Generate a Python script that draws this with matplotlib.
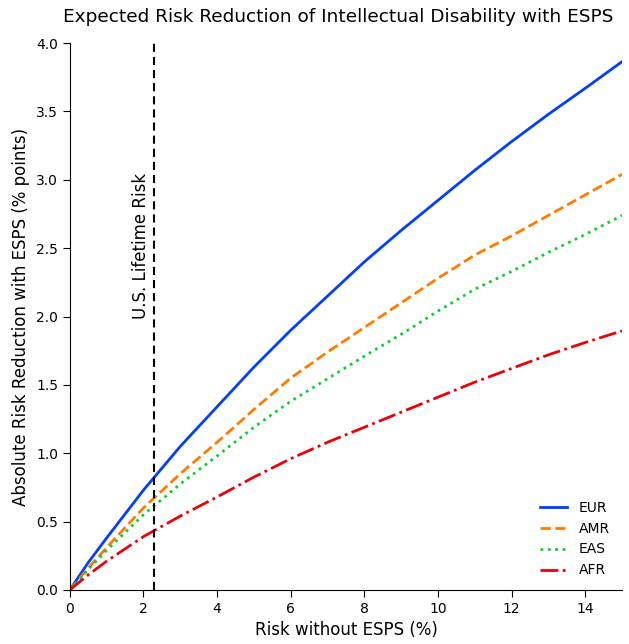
import matplotlib
matplotlib.use("Agg")
import matplotlib.pyplot as plt

# Baseline lifetime risk without ESPS (%)
risk = [0, 0.5, 1, 2, 3, 4, 5, 6, 7, 8, 9, 10, 11, 12, 13, 14, 15]

# Absolute risk reduction with ESPS (% points) by population
eur = [0, 0.20, 0.38, 0.73, 1.05, 1.34, 1.63, 1.90, 2.15, 2.40, 2.63, 2.85, 3.07, 3.28, 3.48, 3.67, 3.865]
amr = [0, 0.16, 0.31, 0.60, 0.85, 1.08, 1.32, 1.55, 1.74, 1.92, 2.10, 2.28, 2.45, 2.59, 2.74, 2.89, 3.04]
eas = [0, 0.15, 0.29, 0.55, 0.775, 0.98, 1.19, 1.38, 1.545, 1.71, 1.87, 2.04, 2.20, 2.33, 2.47, 2.60, 2.74]
afr = [0, 0.11, 0.21, 0.39, 0.54, 0.68, 0.825, 0.96, 1.08, 1.19, 1.30, 1.41, 1.52, 1.62, 1.72, 1.81, 1.895]

us_lifetime_risk = 2.29

fig = plt.figure(figsize=(6.29, 6.44), dpi=100)
ax = fig.add_axes([0.111, 0.084, 0.878, 0.849])

ax.plot(risk, eur, color="#023eff", lw=2, ls="-", label="EUR")
ax.plot(risk, amr, color="#ff7c00", lw=2, ls="--", label="AMR")
ax.plot(risk, eas, color="#1ac938", lw=2, ls=":", label="EAS")
ax.plot(risk, afr, color="#e8000b", lw=2, ls="-.", label="AFR")

ax.axvline(us_lifetime_risk, color="black", ls="--", lw=1.5, dashes=(3.9, 2.4))
ax.text(us_lifetime_risk - 0.12, 2.52, "U.S. Lifetime Risk", rotation=90,
        ha="right", va="center", fontsize=12)

ax.set_xlim(0, 15)
ax.set_ylim(0, 4.0)
ax.set_xticks([0, 2, 4, 6, 8, 10, 12, 14])
ax.set_yticks([0, 0.5, 1.0, 1.5, 2.0, 2.5, 3.0, 3.5, 4.0])
ax.yaxis.set_major_formatter(matplotlib.ticker.FormatStrFormatter("%.1f"))

ax.spines["top"].set_visible(False)
ax.spines["right"].set_visible(False)
ax.tick_params(direction="out", length=5, labelsize=10)

ax.set_xlabel("Risk without ESPS (%)", fontsize=12)
ax.set_ylabel("Absolute Risk Reduction with ESPS (% points)", fontsize=12)
ax.set_title("Expected Risk Reduction of Intellectual Disability with ESPS",
             fontsize=13.3, pad=15, x=0.486)

ax.legend(loc="lower right", frameon=False, fontsize=10)

fig.savefig("out.png", dpi=100)
